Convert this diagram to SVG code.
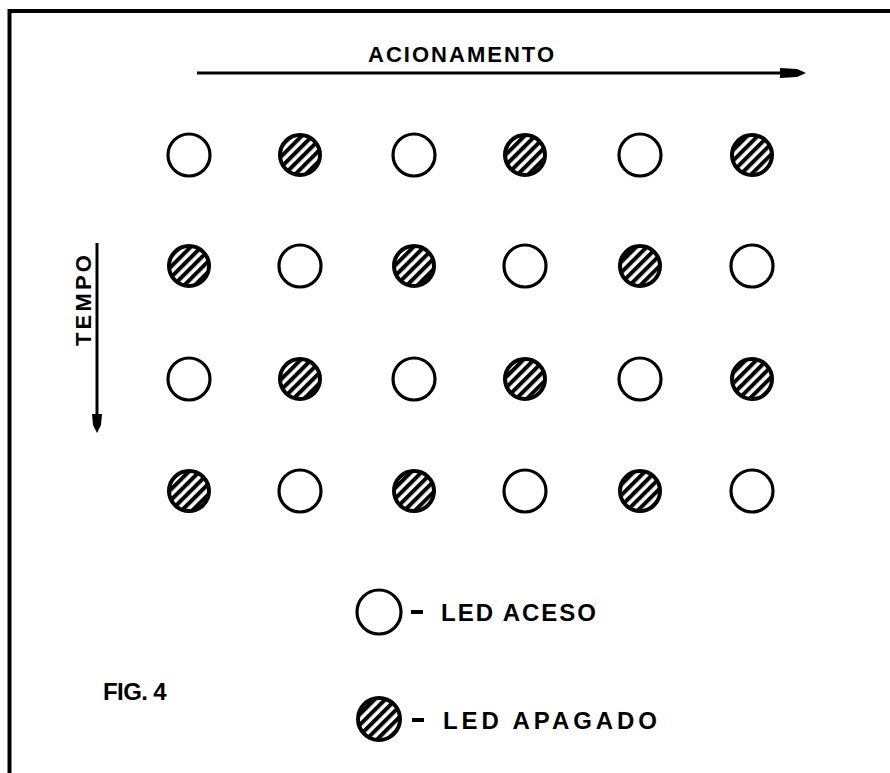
<svg xmlns="http://www.w3.org/2000/svg" width="890" height="773" viewBox="0 0 890 773">
<style>
.t{font-family:"Liberation Sans","DejaVu Sans",sans-serif;font-weight:bold;fill:#000}
.on{fill:#fff;stroke:#000;stroke-width:3.2}
.off{fill:url(#hatch);stroke:#000;stroke-width:4}
.ln{stroke:#000;stroke-width:3;fill:none}
</style>
<defs>
<pattern id="hatch" patternUnits="userSpaceOnUse" width="7.5" height="7.5" patternTransform="rotate(-45)">
<rect width="7.5" height="7.5" fill="#fff"/>
<rect width="7.5" height="4" fill="#000"/>
</pattern>
</defs>
<rect width="890" height="773" fill="#fff"/>
<g id="border">
<line x1="8" y1="11" x2="890" y2="11" stroke="#000" stroke-width="4"/>
<line x1="9.5" y1="9" x2="9.5" y2="773" stroke="#000" stroke-width="4"/>
</g>
<g id="connectors">
<line class="ln" x1="197" y1="73" x2="785" y2="73"/>
<path d="M780 68 L797 69 L806 73 L797 77 L780 78 Z" fill="#000"/>
<line class="ln" x1="97" y1="243" x2="97" y2="418"/>
<path d="M92 414 L93 425 L97 433 L101 425 L102 414 Z" fill="#000"/>
</g>
<g id="label-acionamento"><text class="t" x="368" y="62" font-size="22" textLength="186" lengthAdjust="spacing">ACIONAMENTO</text></g>
<g id="label-tempo"><text class="t" transform="translate(91,346) rotate(-90)" font-size="22" textLength="91" lengthAdjust="spacing">TEMPO</text></g>
<g id="grid">
<g id="r1">
<circle class="on" cx="189" cy="155" r="21"/>
<circle class="off" cx="300" cy="155" r="20"/>
<circle class="on" cx="414" cy="155" r="21"/>
<circle class="off" cx="525" cy="155" r="20"/>
<circle class="on" cx="640" cy="155" r="21"/>
<circle class="off" cx="752" cy="155" r="20"/>
</g>
<g id="r2">
<circle class="off" cx="189" cy="266" r="20"/>
<circle class="on" cx="300" cy="266" r="21"/>
<circle class="off" cx="414" cy="266" r="20"/>
<circle class="on" cx="525" cy="266" r="21"/>
<circle class="off" cx="640" cy="266" r="20"/>
<circle class="on" cx="752" cy="266" r="21"/>
</g>
<g id="r3">
<circle class="on" cx="189" cy="379" r="21"/>
<circle class="off" cx="300" cy="379" r="20"/>
<circle class="on" cx="414" cy="379" r="21"/>
<circle class="off" cx="525" cy="379" r="20"/>
<circle class="on" cx="640" cy="379" r="21"/>
<circle class="off" cx="752" cy="379" r="20"/>
</g>
<g id="r4">
<circle class="off" cx="189" cy="491" r="20"/>
<circle class="on" cx="300" cy="491" r="21"/>
<circle class="off" cx="414" cy="491" r="20"/>
<circle class="on" cx="525" cy="491" r="21"/>
<circle class="off" cx="640" cy="491" r="20"/>
<circle class="on" cx="752" cy="491" r="21"/>
</g>
</g>
<g id="legend-aceso">
<circle class="on" cx="379" cy="612" r="22"/>
<line x1="411" y1="612" x2="423" y2="612" stroke="#000" stroke-width="4"/>
<text class="t" x="441" y="621" font-size="24" textLength="155" lengthAdjust="spacing">LED ACESO</text>
</g>
<g id="legend-apagado">
<circle class="off" cx="379" cy="719" r="21"/>
<line x1="412" y1="720" x2="424" y2="720" stroke="#000" stroke-width="4"/>
<text class="t" x="443" y="729" font-size="24" textLength="214" lengthAdjust="spacing">LED APAGADO</text>
</g>
<g id="fig-label"><text class="t" x="103" y="700" font-size="24" letter-spacing="-0.6">FIG. 4</text></g>
</svg>
